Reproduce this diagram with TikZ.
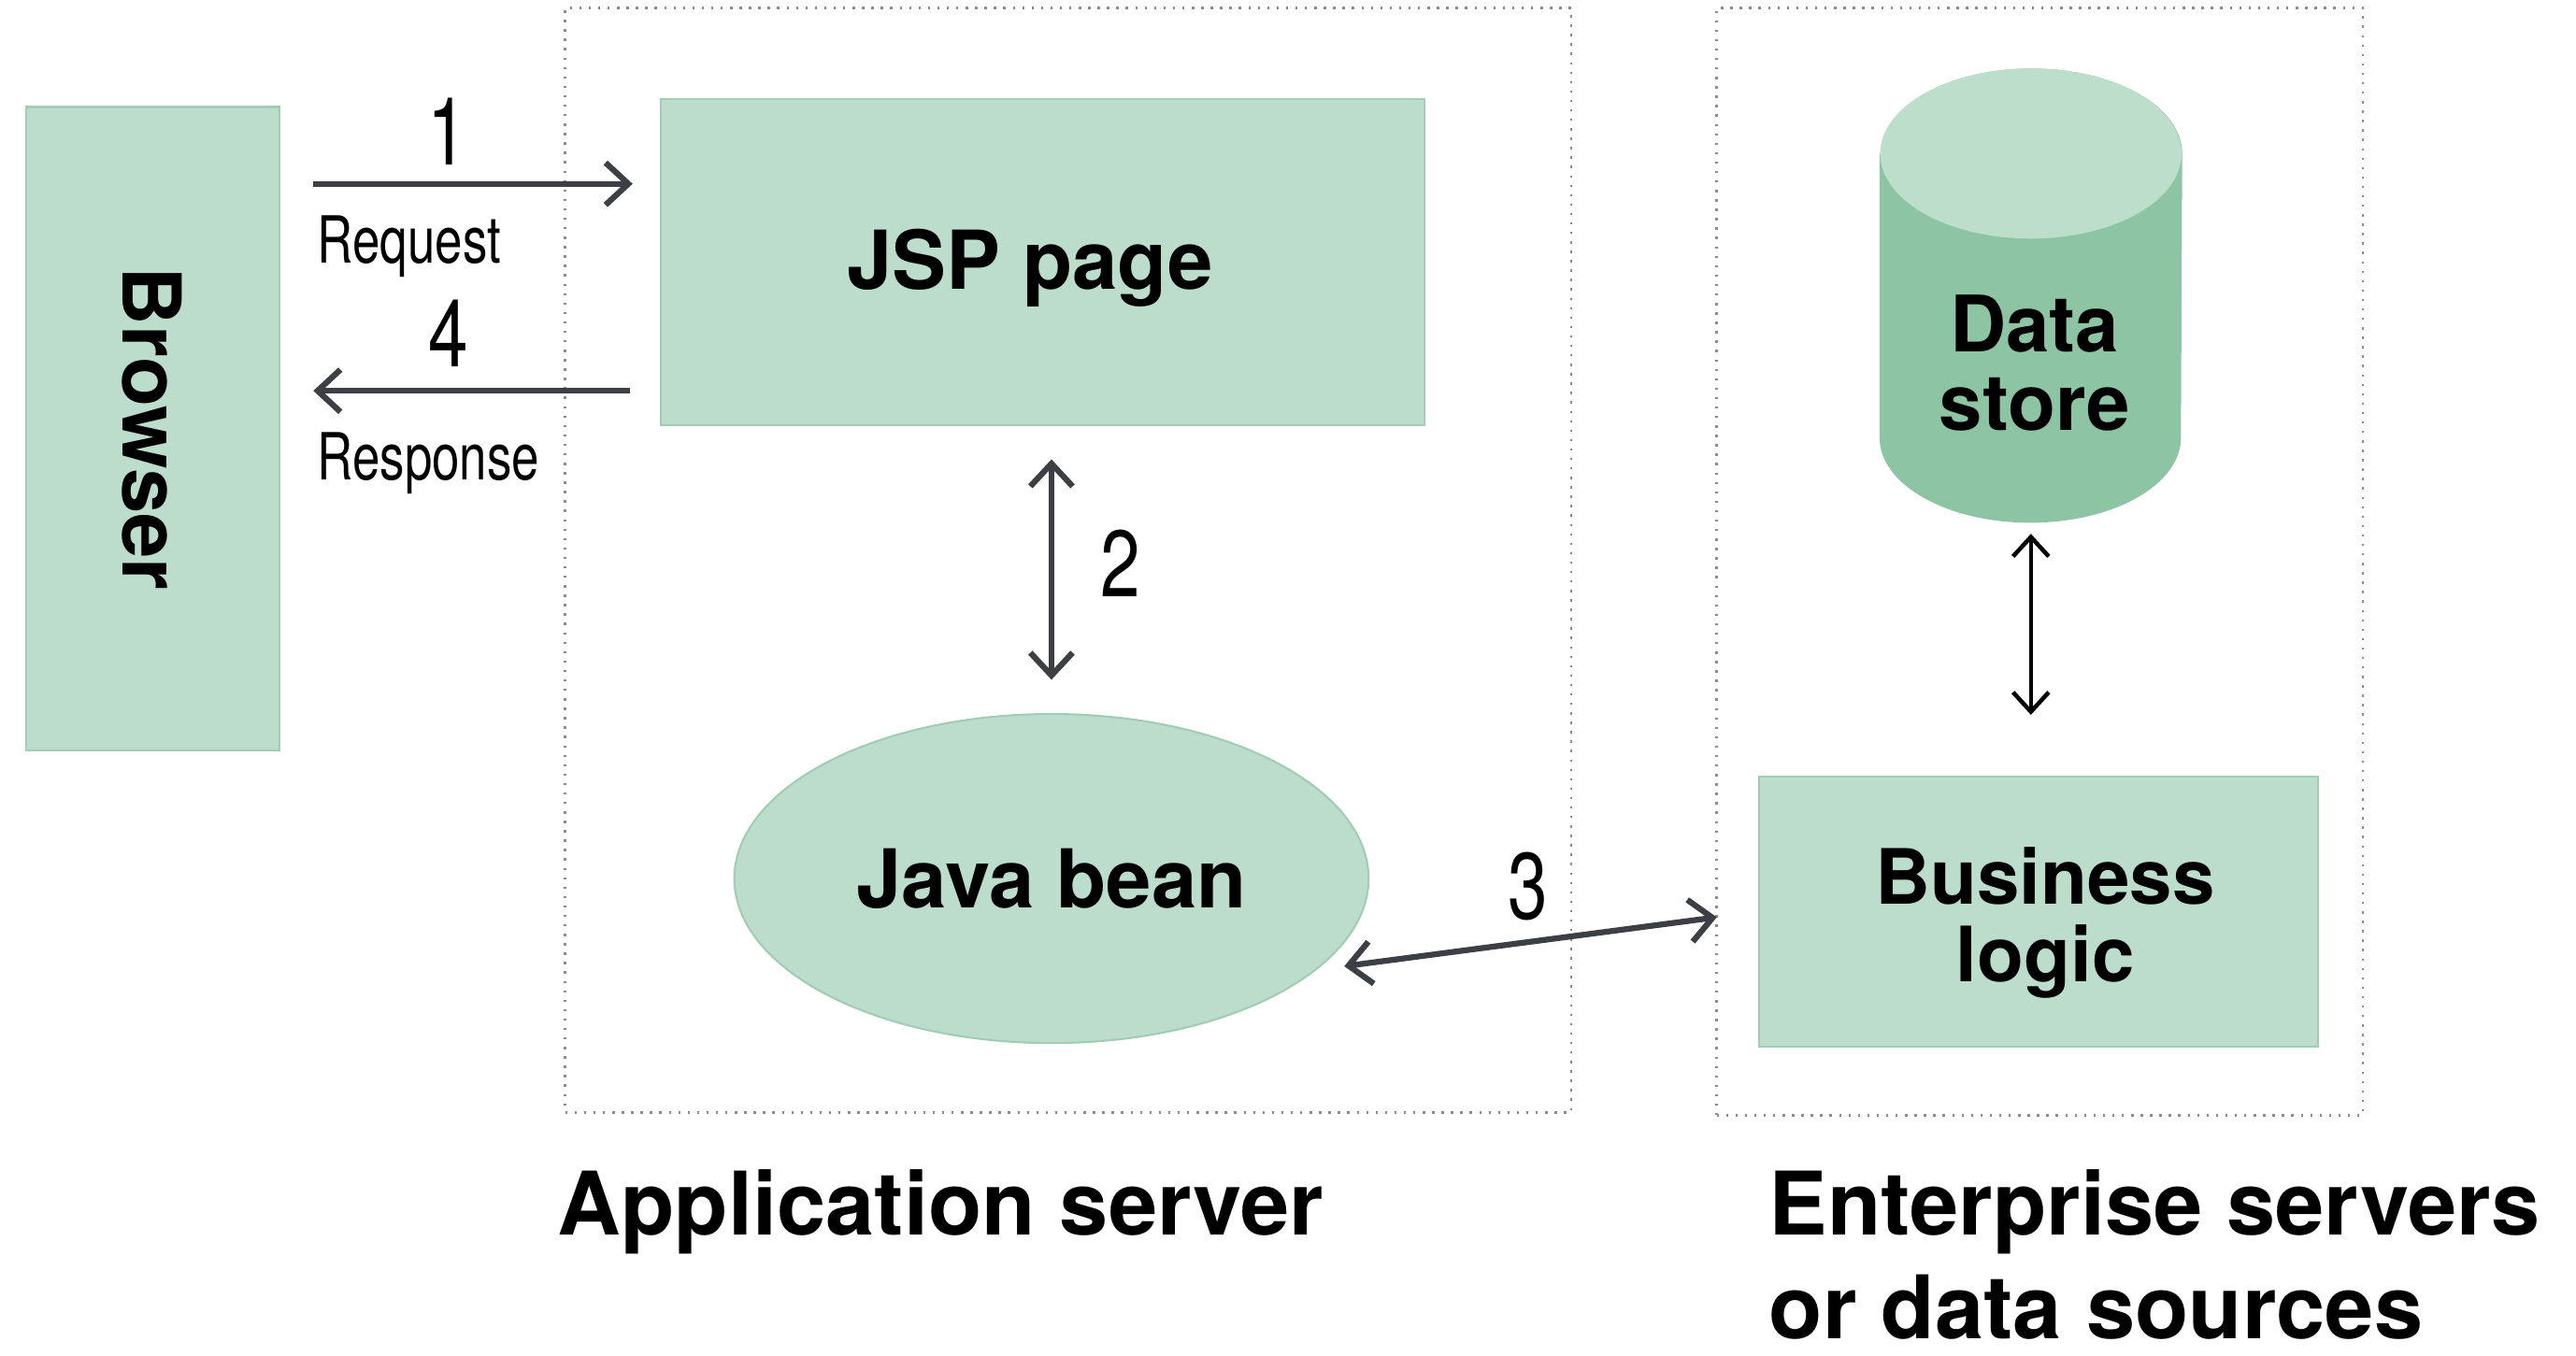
\documentclass[tikz,border=0pt]{standalone}
\usepackage{fontspec}
\setmainfont{TeX Gyre Heros}
\newfontfamily\condfont[FakeStretch=0.76]{TeX Gyre Heros}
\usetikzlibrary{arrows.meta,calc,shapes.geometric}
\definecolor{boxfill}{RGB}{188,221,203}
\definecolor{boxdraw}{RGB}{160,205,180}
\definecolor{cylbody}{RGB}{141,196,164}
\definecolor{cyltop}{RGB}{190,222,204}
\definecolor{arrowc}{RGB}{60,63,68}
\definecolor{zonec}{RGB}{140,140,140}
\begin{document}
\begin{tikzpicture}[x=0.01cm,y=-0.01cm,
  greenbox/.style={rectangle,fill=boxfill,draw=boxdraw,line width=0.6pt,inner sep=0pt,
    align=center,font=\fontsize{25}{25}\selectfont\bfseries},
  boxtext/.style={inner sep=0pt,align=center,font=\fontsize{25}{25}\selectfont\bfseries},
  zone/.style={rectangle,draw=zonec,line width=0.7pt,dash pattern=on 0.7pt off 2.2pt,inner sep=0pt},
  arr/.style={draw=arrowc,line width=1.8pt,{Straight Barb[length=7pt,width=13pt]}-{Straight Barb[length=7pt,width=13pt]}},
  arrone/.style={draw=arrowc,line width=1.8pt,-{Straight Barb[length=7pt,width=13pt]}},
  arrblack/.style={draw=black,line width=1.3pt,{Straight Barb[length=6pt,width=11pt]}-{Straight Barb[length=6pt,width=11pt]}},
  num/.style={font=\condfont\fontsize{29}{29}\selectfont,inner sep=0pt},
  small/.style={font=\condfont\fontsize{20}{20}\selectfont,inner sep=0pt,anchor=base west},
  title/.style={font=\fontsize{27}{32}\selectfont\bfseries,inner sep=0pt,anchor=base west}]
\useasboundingbox (0,0) rectangle (2788,1467);

% zones
\node (appzone) [zone,minimum width=10.88cm,minimum height=11.95cm] at (1156,606.5) {};
\node (entzone) [zone,minimum width=6.99cm,minimum height=11.98cm] at (2207.5,608) {};

% boxes
\node (browser) [greenbox,minimum width=2.74cm,minimum height=6.96cm] at (165,464) {\rotatebox{-90}{Browser}};
\node (jsp) [greenbox,minimum width=8.26cm,minimum height=3.53cm] at (1128,283.5) {};
\node (jsptext) [boxtext] at ([xshift=-0.13cm,yshift=-0.07cm]jsp.center) {JSP page};
\node (bean) [greenbox,ellipse,minimum width=6.86cm,minimum height=3.56cm] at (1138,951) {Java bean};
\node (bl) [greenbox,minimum width=6.05cm,minimum height=2.92cm] at (2206.5,987) {};
\node (bltext) [boxtext,font=\fontsize{23.5}{24}\selectfont\bfseries]
  at ([xshift=0.07cm,yshift=-0.12cm]bl.center) {Business\\logic};

% data store cylinder
\node (ds) [rectangle,inner sep=0pt,minimum width=3.26cm,minimum height=4.9cm] at (2198,320) {};
\fill[cylbody] ([yshift=-0.92cm]ds.north west) -- ([yshift=0.92cm]ds.south west)
  arc[start angle=180,end angle=360,x radius=1.63cm,y radius=0.92cm]
  -- ([yshift=-0.92cm]ds.north east)
  arc[start angle=0,end angle=180,x radius=1.63cm,y radius=0.92cm] -- cycle;
\fill[cyltop] ([yshift=-0.92cm]ds.north) ellipse[x radius=1.63cm,y radius=0.92cm];
\node (dstext) [boxtext,font=\fontsize{24}{24}\selectfont\bfseries]
  at ([xshift=0.04cm,yshift=-0.73cm]ds.center) {Data\\store};

% connectors
\draw[arrone,shorten <=0.36cm,shorten >=0.29cm] (browser.east |- 0,199) -- (jsp.west |- 0,199);
\draw[arrone,shorten <=0.32cm,shorten >=0.36cm] (jsp.west |- 0,423) -- (browser.east |- 0,423);
\draw[arr,shorten <=0.36cm,shorten >=0.36cm] (bean.north |- jsp.south) -- (bean.north);
\draw[arr,shorten <=0.3cm,shorten >=0.45cm] (bean.-19) -- (bl.west);
\draw[arrblack,shorten <=0.12cm,shorten >=0.66cm] (ds.south) -- (ds.south |- bl.north);

% labels
\node (n1) [num] at (484,142) {1};
\node (req) [small] at (343,285) {Request};
\node (n4) [num] at (485,361) {4};
\node (resp) [small] at (343,519) {Response};
\node (n2) [num] at (1213,610) {2};
\node (n3) [num] at (1654,960) {3};

% titles
\node (apptitle) [title] at (603,1337) {Application server};
\node (enttitle) [title] at (1914,1337) {Enterprise servers};
\node (enttitle2) [title] at (1914,1449) {or data sources};
\end{tikzpicture}
\end{document}
